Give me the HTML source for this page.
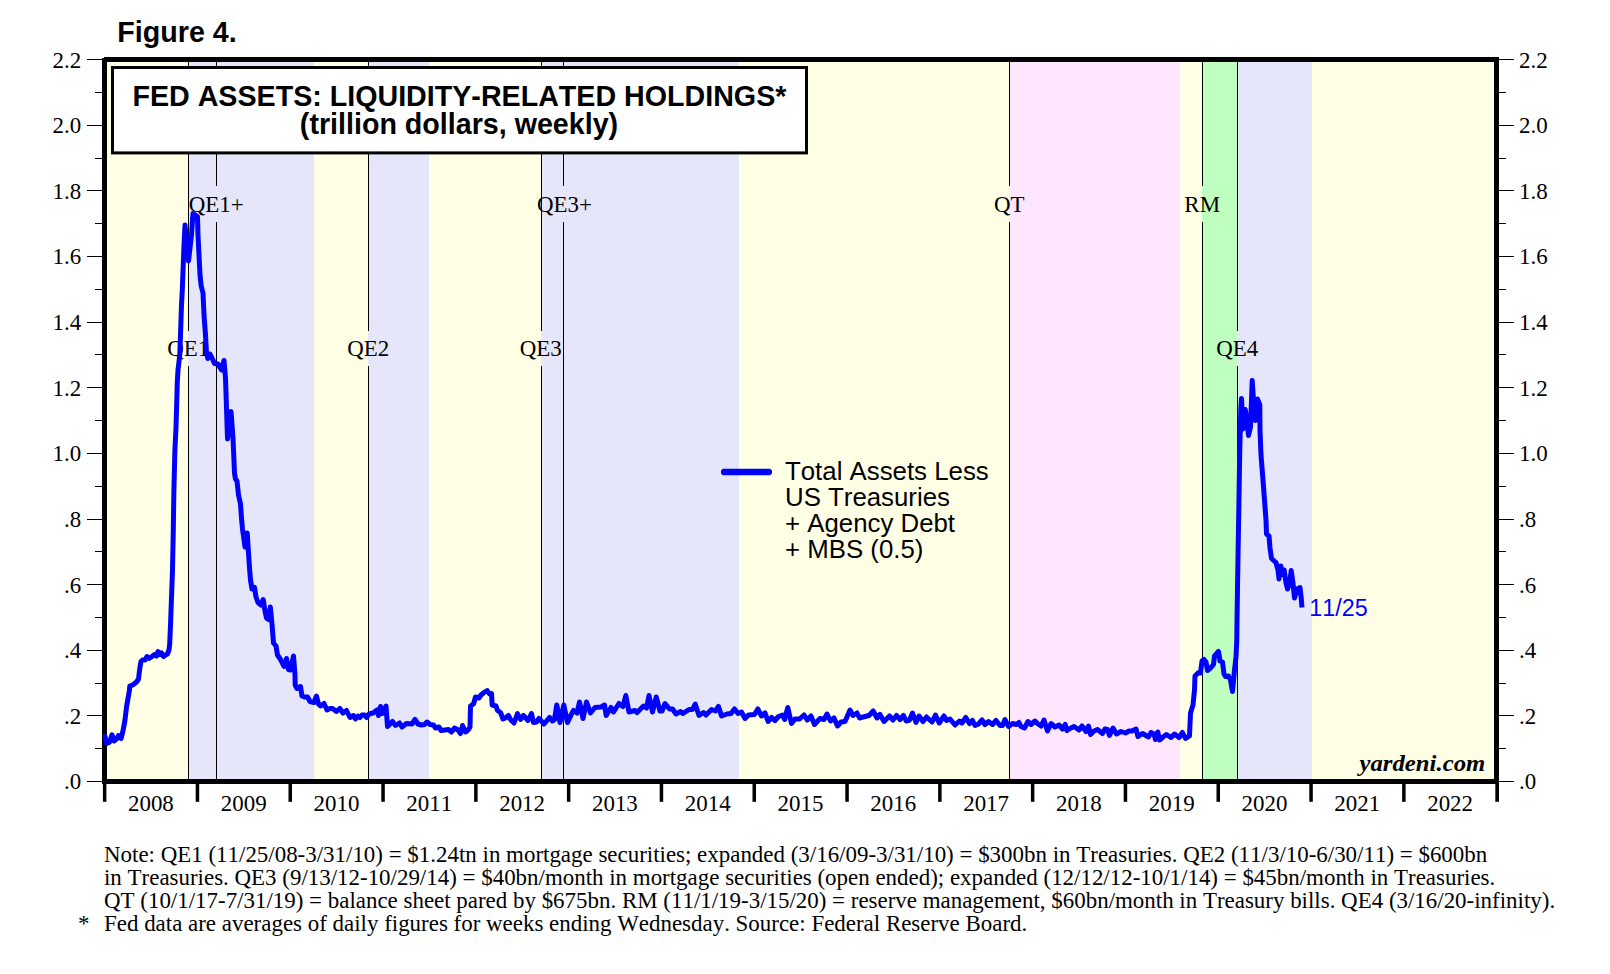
<!DOCTYPE html>
<html><head><meta charset="utf-8"><title>Figure 4. Fed Assets: Liquidity-Related Holdings</title>
<style>
html,body{margin:0;padding:0;background:#fff;}
body{width:1610px;height:974px;overflow:hidden;font-family:"Liberation Serif", serif;}
svg{display:block;}
text{font-kerning:none;font-variant-ligatures:none;}
.s{font-family:"Liberation Serif", serif;}
.a{font-family:"Liberation Sans", sans-serif;}
</style></head><body>
<svg width="1610" height="974" viewBox="0 0 1610 974">
<rect x="0" y="0" width="1610" height="974" fill="#fff"/>
<rect x="102" y="57" width="1397" height="727" fill="#ffffe6"/>
<g shape-rendering="crispEdges">
<rect x="188" y="57" width="126" height="727" fill="#e6e6fa"/>
<rect x="368" y="57" width="61" height="727" fill="#e6e6fa"/>
<rect x="541" y="57" width="198" height="727" fill="#e6e6fa"/>
<rect x="1009" y="57" width="171" height="727" fill="#ffe6ff"/>
<rect x="1202" y="57" width="35" height="727" fill="#bfffbf"/>
<rect x="1237" y="57" width="75" height="727" fill="#e6e6fa"/>
</g>
<g fill="#000" shape-rendering="crispEdges">
<rect x="188" y="57" width="1" height="274"/>
<rect x="188" y="366" width="1" height="418"/>
<rect x="216" y="57" width="1" height="129"/>
<rect x="216" y="222" width="1" height="562"/>
<rect x="368" y="57" width="1" height="274"/>
<rect x="368" y="366" width="1" height="418"/>
<rect x="541" y="57" width="1" height="274"/>
<rect x="541" y="366" width="1" height="418"/>
<rect x="563" y="57" width="1" height="129"/>
<rect x="563" y="222" width="1" height="562"/>
<rect x="1009" y="57" width="1" height="129"/>
<rect x="1009" y="222" width="1" height="562"/>
<rect x="1202" y="57" width="1" height="129"/>
<rect x="1202" y="222" width="1" height="562"/>
<rect x="1237" y="57" width="1" height="274"/>
<rect x="1237" y="366" width="1" height="418"/>
</g>
<g class="s" font-size="22.4" fill="#000">
<text transform="translate(188.20,355.80) scale(1.0247,1)" text-anchor="middle">QE1</text>
<text transform="translate(216.20,211.80) scale(1.0247,1)" text-anchor="middle">QE1+</text>
<text transform="translate(368.20,355.80) scale(1.0247,1)" text-anchor="middle">QE2</text>
<text transform="translate(540.70,355.80) scale(1.0247,1)" text-anchor="middle">QE3</text>
<text transform="translate(564.40,211.80) scale(1.0247,1)" text-anchor="middle">QE3+</text>
<text transform="translate(1009.20,211.80) scale(1.0247,1)" text-anchor="middle">QT</text>
<text transform="translate(1202.20,211.80) scale(1.0247,1)" text-anchor="middle">RM</text>
<text transform="translate(1237.20,355.80) scale(1.0247,1)" text-anchor="middle">QE4</text>
</g>
<polygon points="722.8,468.8 770.2,468.8 772,470.4 772,473.6 770.2,475.2 722.8,475.2 721,473.6 721,470.4" fill="#0000ff"/>
<g class="a" font-size="25.82" fill="#000">
<text x="785.0" y="480.40">Total Assets Less</text>
<text x="785.0" y="506.20">US Treasuries</text>
<text x="785.0" y="532.00">+ Agency Debt</text>
<text x="785.0" y="557.80">+ MBS (0.5)</text>
</g>
<text class="a" font-size="23.35" fill="#0000ff" x="1309.3" y="615.8">11/25</text>
<text class="s" font-size="23.5" font-weight="bold" font-style="italic" fill="#000" x="1359.5" y="771.2" textLength="125.8" lengthAdjust="spacingAndGlyphs">yardeni.com</text>
<rect x="104.5" y="59.5" width="1392" height="722" fill="none" stroke="#000" stroke-width="5"/>
<rect x="102" y="57" width="2" height="1" fill="#fff" shape-rendering="crispEdges"/>
<path d="M102.8,736.2 L105,736.4 L106.6,743.5 L109.5,742.3 L112,734.8 L114,741 L116.5,739 L118.5,735.5 L121,738.5 L123,731 L125,720 L126.5,707 L129.5,690 L129.8,686 L133,684.8 L136.5,682 L138.5,679 L139.2,673 L140,667 L141,661.5 L142.5,660 L145,660 L147,656.5 L149,658.5 L152,656.5 L154.5,654.5 L156.5,656 L158,651.5 L160,654.5 L161.5,653 L163.5,656.5 L165.5,655 L167.5,654 L169,650 L169.7,644 L170.5,625 L172.5,570 L173.3,530 L173.9,490 L174.9,450 L176,428 L177.3,382 L178,370 L179.8,355 L180.5,335 L181.5,305 L182.3,290 L184,245 L185,225 L188.5,261 L191.5,235 L193,213.5 L197.5,216.5 L198,235 L199,255 L200,275 L201.2,286 L203,293 L204,315 L205.5,335 L206.5,353 L207.8,358.5 L210,354 L212.5,359 L214.5,363.5 L218,364 L221.5,370 L224,360.5 L225.5,378 L226.5,408 L227.5,439 L231,411.5 L233,438 L234.5,473 L235.5,479 L237,481 L238.5,495 L240.5,504 L241.5,518 L242.5,529 L245,547 L247.2,533 L248.5,553 L249.6,569 L250.5,580 L252,589 L254.5,587.5 L256,597 L258,602.5 L261,605 L263.2,599.5 L265,611 L266.5,618 L268.5,619.5 L270.3,607 L272,624 L273.5,643 L276,646 L277.5,655 L280.5,659.5 L284,666.5 L286.5,658.5 L288.5,669.5 L290.5,670 L293.5,656 L295,675 L295.2,685 L297,688.5 L300.5,686.5 L302,696 L304.5,697 L307.5,697 L310,701.5 L314,702.5 L316.5,696 L318.5,704 L320.5,706 L324,703.5 L327,710 L330,708.5 L332.5,708.5 L336.5,711.5 L339.8,708.5 L343,713 L346.5,710.5 L350,717.5 L353.5,715.5 L355.5,719 L358,716 L360,717.5 L362,715 L364.5,715 L366.5,717.5 L369,714 L373,713 L377,710 L378.5,715.5 L380.5,706.5 L382.5,713.5 L386,706 L387.5,726.5 L392.5,721.5 L395.5,725.5 L399.5,723 L402,727 L406.5,723.5 L412,724 L415,719.5 L418,724 L421.5,725 L424.5,724.5 L427,722 L430,724.5 L433.5,725 L435.5,728 L439,727 L441,730.5 L445,730 L448.5,729.5 L451.5,732 L454.5,728 L458,730 L460.5,733.5 L462.5,725.5 L465.5,732 L468.5,729.5 L470,727 L470.5,706 L473.5,704 L475.5,697 L479,698 L481,695 L484,692.5 L487.2,690.5 L489.5,694 L491.5,693.5 L492.2,705 L496,706 L497.5,710.5 L500.5,712.5 L503,719 L505.5,718 L508.5,715.5 L510.5,719.5 L514,723 L517.5,713.5 L520.5,719.5 L523.5,715.5 L528,720.5 L531.5,713.5 L533.5,722.5 L536.5,722 L539,718.5 L544,724 L549.5,717.5 L552.5,721 L554.5,719.5 L556.8,705 L560,722.5 L563.8,705 L567.5,722.5 L572,713 L573.5,710.5 L577,713 L579.5,702 L583,718.5 L586.5,702 L590.5,713 L595,707.5 L601,707 L604.5,705 L606.2,715.5 L611,707.5 L613.5,712 L619,703.5 L623,706.5 L625.8,695.5 L629,712 L635,710.5 L637,712.5 L643.5,706 L646.5,708 L649,695.5 L652.5,712 L656.2,697 L660,711 L662,711 L665,703.5 L669.5,709 L672.5,709 L676,714 L680.5,711.5 L683,713.5 L689,709.5 L692.5,709.5 L695.2,704 L699,715.5 L703.5,712.5 L706,715 L711.5,709.5 L715.5,711 L718.5,706.5 L721.5,716 L727,714 L731,713.5 L734.5,709 L738,713.5 L741.5,712 L745,718.5 L748.5,715 L754.5,714.5 L757.8,709 L761.5,716 L765,713 L768.2,721.5 L771.5,717.5 L775,720.5 L778.5,716.5 L782.5,715 L784.7,719.5 L787.8,707.5 L791.5,723.5 L795,719 L799.5,719 L804,715 L807.2,720 L811,716 L814.5,724.5 L820,718.5 L824,719.5 L827,714 L830.5,721 L834,718 L837.5,726 L841,722 L845,721.5 L850,710 L853,715.5 L857,713 L859.5,718 L863,717 L869,715.5 L873.2,711 L877,718 L880,714.5 L884,721.5 L889.5,716 L893,720 L896.5,715.5 L900,719.5 L903.5,715.5 L906.2,721 L909.5,720 L912.5,713 L916,722.5 L919,716 L923,721.5 L926.5,717 L932,722 L935.5,715 L939.2,723 L944,716 L946.5,720.5 L950,719 L955,725 L959.5,721 L962,723 L965.8,717.5 L969.5,723.5 L972.5,720.5 L975,725.5 L978.5,724 L982,720 L985,724.5 L988.5,721.5 L992.5,724.5 L996,720.5 L1000,725.5 L1002.5,725.5 L1005,719.5 L1008.5,726.5 L1012.5,723.5 L1016.5,724.5 L1019,722.5 L1021,726.5 L1024.5,728 L1028,721.5 L1031,724.5 L1035,721 L1038,724 L1041,726 L1044,720 L1047.5,731 L1051,723.5 L1055,727 L1059,725 L1062.5,729 L1065.2,724.5 L1067,730.5 L1070,728.5 L1074,726.5 L1079,730 L1082,726 L1086,731.5 L1088.5,726 L1090.5,734.5 L1094,731 L1097.5,729.5 L1102.5,733.5 L1105,729 L1107.5,729.5 L1109.5,735.5 L1113,728 L1116.5,734 L1121,731.5 L1125.5,733 L1129,731 L1132,731 L1136,729 L1138,736.5 L1142.5,733.5 L1148.5,737 L1151,732.5 L1154,734 L1155.5,739.5 L1157.8,732 L1159.5,740 L1163,737 L1166.5,734.5 L1171,737.5 L1174.5,734 L1179,737.5 L1182.5,732.5 L1185.5,738.5 L1189.5,736 L1190.5,713 L1193,705 L1194.5,690 L1195,676 L1198.5,672.5 L1200.5,673 L1202,661 L1204,659.5 L1206,662 L1207.5,670.5 L1211,667.5 L1213.5,664.5 L1214.5,656 L1218.5,651.5 L1220,661 L1222.5,662 L1224,674 L1225.5,676.5 L1228.5,676 L1230.5,680 L1232.5,691.5 L1234.5,670 L1236,657 L1236.8,640 L1237,620 L1238,557 L1238.8,510 L1239.5,465 L1240,440 L1240.8,410 L1241.5,398.5 L1243,429 L1245.2,409.5 L1247,420 L1248.5,435.5 L1250.5,427 L1251.5,400 L1252.2,380.5 L1253.5,400 L1255.5,420.5 L1257.5,399 L1259.8,405 L1260,430 L1261,455 L1263,480 L1264.5,500 L1266,520 L1266.5,534 L1269,536 L1270,548 L1271.5,558.5 L1276,562.5 L1278,570 L1279,579 L1280.8,566 L1282.5,574.5 L1284.2,570 L1286,583 L1287.5,589 L1289.5,584 L1291.2,570.5 L1293,583 L1294.5,598 L1297,589 L1300,587.5 L1301.2,598 L1302,607.5" fill="none" stroke="#0000ff" stroke-width="5" stroke-linejoin="round" stroke-linecap="butt"/>
<rect x="112.5" y="67.5" width="694" height="85.4" fill="#fff" stroke="#000" stroke-width="3"/>
<g class="a" font-size="28.65" font-weight="bold" fill="#000" text-anchor="middle">
<text x="459.4" y="105.8">FED ASSETS: LIQUIDITY-RELATED HOLDINGS*</text>
<text x="459" y="133.6">(trillion dollars, weekly)</text>
</g>
<text class="a" font-size="28.65" font-weight="bold" fill="#000" x="117.3" y="41.8">Figure 4.</text>
<g fill="#000" shape-rendering="crispEdges">
<rect x="87" y="781" width="15" height="1"/>
<rect x="1499" y="781" width="15" height="1"/>
<rect x="95" y="748" width="7" height="1"/>
<rect x="1499" y="748" width="7" height="1"/>
<rect x="87" y="715" width="15" height="1"/>
<rect x="1499" y="715" width="15" height="1"/>
<rect x="95" y="683" width="7" height="1"/>
<rect x="1499" y="683" width="7" height="1"/>
<rect x="87" y="650" width="15" height="1"/>
<rect x="1499" y="650" width="15" height="1"/>
<rect x="95" y="617" width="7" height="1"/>
<rect x="1499" y="617" width="7" height="1"/>
<rect x="87" y="584" width="15" height="1"/>
<rect x="1499" y="584" width="15" height="1"/>
<rect x="95" y="551" width="7" height="1"/>
<rect x="1499" y="551" width="7" height="1"/>
<rect x="87" y="519" width="15" height="1"/>
<rect x="1499" y="519" width="15" height="1"/>
<rect x="95" y="486" width="7" height="1"/>
<rect x="1499" y="486" width="7" height="1"/>
<rect x="87" y="453" width="15" height="1"/>
<rect x="1499" y="453" width="15" height="1"/>
<rect x="95" y="420" width="7" height="1"/>
<rect x="1499" y="420" width="7" height="1"/>
<rect x="87" y="387" width="15" height="1"/>
<rect x="1499" y="387" width="15" height="1"/>
<rect x="95" y="354" width="7" height="1"/>
<rect x="1499" y="354" width="7" height="1"/>
<rect x="87" y="322" width="15" height="1"/>
<rect x="1499" y="322" width="15" height="1"/>
<rect x="95" y="289" width="7" height="1"/>
<rect x="1499" y="289" width="7" height="1"/>
<rect x="87" y="256" width="15" height="1"/>
<rect x="1499" y="256" width="15" height="1"/>
<rect x="95" y="223" width="7" height="1"/>
<rect x="1499" y="223" width="7" height="1"/>
<rect x="87" y="190" width="15" height="1"/>
<rect x="1499" y="190" width="15" height="1"/>
<rect x="95" y="158" width="7" height="1"/>
<rect x="1499" y="158" width="7" height="1"/>
<rect x="87" y="125" width="15" height="1"/>
<rect x="1499" y="125" width="15" height="1"/>
<rect x="95" y="92" width="7" height="1"/>
<rect x="1499" y="92" width="7" height="1"/>
<rect x="87" y="59" width="15" height="1"/>
<rect x="1499" y="59" width="15" height="1"/>
</g>
<g class="s" font-size="22.4" fill="#000">
<text transform="translate(81.20,789.00) scale(1.0247,1)" text-anchor="end">.0</text>
<text transform="translate(1519.00,789.00) scale(1.0247,1)" text-anchor="start">.0</text>
<text transform="translate(81.20,724.00) scale(1.0247,1)" text-anchor="end">.2</text>
<text transform="translate(1519.00,724.00) scale(1.0247,1)" text-anchor="start">.2</text>
<text transform="translate(81.20,658.00) scale(1.0247,1)" text-anchor="end">.4</text>
<text transform="translate(1519.00,658.00) scale(1.0247,1)" text-anchor="start">.4</text>
<text transform="translate(81.20,593.00) scale(1.0247,1)" text-anchor="end">.6</text>
<text transform="translate(1519.00,593.00) scale(1.0247,1)" text-anchor="start">.6</text>
<text transform="translate(81.20,527.00) scale(1.0247,1)" text-anchor="end">.8</text>
<text transform="translate(1519.00,527.00) scale(1.0247,1)" text-anchor="start">.8</text>
<text transform="translate(81.20,461.00) scale(1.0247,1)" text-anchor="end">1.0</text>
<text transform="translate(1519.00,461.00) scale(1.0247,1)" text-anchor="start">1.0</text>
<text transform="translate(81.20,396.00) scale(1.0247,1)" text-anchor="end">1.2</text>
<text transform="translate(1519.00,396.00) scale(1.0247,1)" text-anchor="start">1.2</text>
<text transform="translate(81.20,330.00) scale(1.0247,1)" text-anchor="end">1.4</text>
<text transform="translate(1519.00,330.00) scale(1.0247,1)" text-anchor="start">1.4</text>
<text transform="translate(81.20,264.00) scale(1.0247,1)" text-anchor="end">1.6</text>
<text transform="translate(1519.00,264.00) scale(1.0247,1)" text-anchor="start">1.6</text>
<text transform="translate(81.20,199.00) scale(1.0247,1)" text-anchor="end">1.8</text>
<text transform="translate(1519.00,199.00) scale(1.0247,1)" text-anchor="start">1.8</text>
<text transform="translate(81.20,133.00) scale(1.0247,1)" text-anchor="end">2.0</text>
<text transform="translate(1519.00,133.00) scale(1.0247,1)" text-anchor="start">2.0</text>
<text transform="translate(81.20,68.00) scale(1.0247,1)" text-anchor="end">2.2</text>
<text transform="translate(1519.00,68.00) scale(1.0247,1)" text-anchor="start">2.2</text>
</g>
<g fill="#000">
<rect x="102.90" y="783" width="3.5" height="18.8"/>
<rect x="195.70" y="783" width="3.5" height="18.8"/>
<rect x="288.50" y="783" width="3.5" height="18.8"/>
<rect x="381.30" y="783" width="3.5" height="18.8"/>
<rect x="474.10" y="783" width="3.5" height="18.8"/>
<rect x="566.90" y="783" width="3.5" height="18.8"/>
<rect x="659.70" y="783" width="3.5" height="18.8"/>
<rect x="752.50" y="783" width="3.5" height="18.8"/>
<rect x="845.30" y="783" width="3.5" height="18.8"/>
<rect x="938.10" y="783" width="3.5" height="18.8"/>
<rect x="1030.90" y="783" width="3.5" height="18.8"/>
<rect x="1123.70" y="783" width="3.5" height="18.8"/>
<rect x="1216.50" y="783" width="3.5" height="18.8"/>
<rect x="1309.30" y="783" width="3.5" height="18.8"/>
<rect x="1402.10" y="783" width="3.5" height="18.8"/>
<rect x="1495.3" y="783" width="3.7" height="18.8"/>
</g>
<g class="s" font-size="22.4" fill="#000">
<text transform="translate(150.90,811.00) scale(1.0247,1)" text-anchor="middle">2008</text>
<text transform="translate(243.70,811.00) scale(1.0247,1)" text-anchor="middle">2009</text>
<text transform="translate(336.50,811.00) scale(1.0247,1)" text-anchor="middle">2010</text>
<text transform="translate(429.30,811.00) scale(1.0247,1)" text-anchor="middle">2011</text>
<text transform="translate(522.10,811.00) scale(1.0247,1)" text-anchor="middle">2012</text>
<text transform="translate(614.90,811.00) scale(1.0247,1)" text-anchor="middle">2013</text>
<text transform="translate(707.70,811.00) scale(1.0247,1)" text-anchor="middle">2014</text>
<text transform="translate(800.50,811.00) scale(1.0247,1)" text-anchor="middle">2015</text>
<text transform="translate(893.30,811.00) scale(1.0247,1)" text-anchor="middle">2016</text>
<text transform="translate(986.10,811.00) scale(1.0247,1)" text-anchor="middle">2017</text>
<text transform="translate(1078.90,811.00) scale(1.0247,1)" text-anchor="middle">2018</text>
<text transform="translate(1171.70,811.00) scale(1.0247,1)" text-anchor="middle">2019</text>
<text transform="translate(1264.50,811.00) scale(1.0247,1)" text-anchor="middle">2020</text>
<text transform="translate(1357.30,811.00) scale(1.0247,1)" text-anchor="middle">2021</text>
<text transform="translate(1450.10,811.00) scale(1.0247,1)" text-anchor="middle">2022</text>
</g>
<g class="s" font-size="22.4" fill="#000">
<text transform="translate(104.00,862.20) scale(1.0247,1)" text-anchor="start">Note: QE1 (11/25/08-3/31/10) = $1.24tn in mortgage securities; expanded (3/16/09-3/31/10) = $300bn in Treasuries. QE2 (11/3/10-6/30/11) = $600bn</text>
<text transform="translate(104.00,885.10) scale(1.0247,1)" text-anchor="start">in Treasuries. QE3 (9/13/12-10/29/14) = $40bn/month in mortgage securities (open ended); expanded (12/12/12-10/1/14) = $45bn/month in Treasuries.</text>
<text transform="translate(104.00,908.00) scale(1.0247,1)" text-anchor="start">QT (10/1/17-7/31/19) = balance sheet pared by $675bn. RM (11/1/19-3/15/20) = reserve management, $60bn/month in Treasury bills. QE4 (3/16/20-infinity).</text>
<text transform="translate(104.00,930.90) scale(1.0247,1)" text-anchor="start">Fed data are averages of daily figures for weeks ending Wednesday. Source: Federal Reserve Board.</text>
<text transform="translate(78.00,930.90) scale(1.0247,1)" text-anchor="start">*</text>
</g>
</svg>
</body></html>
